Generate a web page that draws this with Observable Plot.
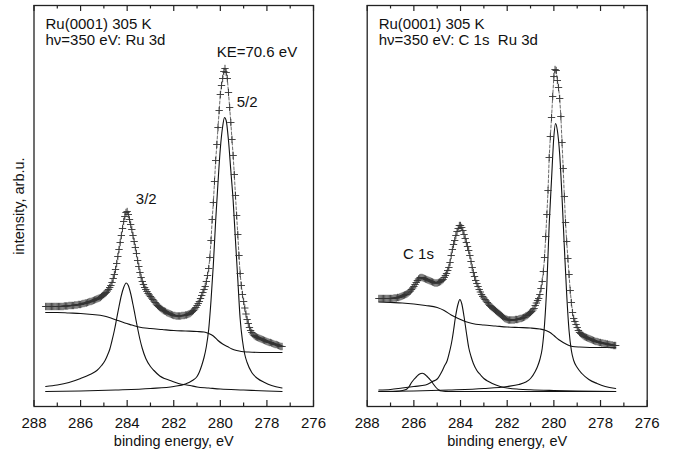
<!DOCTYPE html>
<html><head><meta charset="utf-8">
<script src="https://cdn.jsdelivr.net/npm/d3@7"></script>
<script src="https://cdn.jsdelivr.net/npm/@observablehq/plot@0.6"></script>
<style>
html,body{margin:0;padding:0;background:#fff;}
#chart{position:relative;width:675px;height:453px;font-family:"Liberation Sans",Arial,sans-serif;}
#chart svg{position:absolute;top:0;}
</style></head><body><div id="chart"></div>
<script>
// ---- data (binding energy grid: 287.50 eV down, 0.05 eV steps) ----
const energyStart = 287.5, energyStep = 0.05;

// Left panel: Ru 3d measured intensities (crosses / dashed envelope)
const ruCounts = [
  86,86,86,86,86,86,86,86,86,86,
  86,86,86,86,86,86,86.5,86.5,86.5,86.5,
  87,87,87,87,87,87.5,87.5,87.5,88,88,
  88,88.5,89,89,89.5,89.5,90,90.5,91,91,
  91.5,92,92.5,93,93.5,94,94.5,95,96,97,
  98,99,100,101.5,103,105,107,110,114,118,
  123,129,136,143,150,157,164,171,176,180,
  181,178,173,168,163,157,151,145,139,132,
  126,120,115,111,108,105,103,101,99,97.5,
  96,94.5,93,91.5,90,88.5,87,86,85,84,
  83,82,81.5,81,80,79.5,79,78.5,78,77.5,
  77,77,76.5,76.5,76.5,76.5,76.5,77,77,77,
  77.5,77.5,78,78.5,79,80,81,82,83.5,85,
  87,89,91,94,97,100,103,106,111,117,
  124,135,152,173,190,211,232,248,265,282,
  298,307,314,321,324,320,314,300,285,270,
  253,237,218,197,177,158,137,119,107,98,
  91,84.5,78.5,73,69,65,62,60,58.5,57,
  56,55.5,55,54.5,54,53.5,53,52.5,52,51.5,
  51,50.5,50,50,49.5,49,48.5,48,48,47.5,
  47,46.5,46,46
];
// Left panel fitted curves: [binding energy, intensity]
const ruBackground = [[287.5,80],[287.0,80],[286.5,79.5],[286.0,79],[285.5,78],[285.0,76.5],[284.7,74.5],[284.4,72],[284.1,69.5],[283.8,67.5],[283.5,65.5],[283.0,64],[282.5,63],[282.0,62],[281.5,61.5],[281.0,61],[280.7,60.5],[280.5,59],[280.3,56.5],[280.1,52],[279.9,48.5],[279.7,46],[279.5,43.5],[279.3,42],[279.1,41],[278.8,40.5],[278.0,40],[277.35,40]];
const ru32 = [[287.5,6],[287.0,7.5],[286.5,10],[286.0,14],[285.6,18],[285.3,22],[285.1,27],[284.95,32],[284.85,37],[284.75,43],[284.65,52],[284.55,62],[284.45,74],[284.35,86],[284.25,97],[284.15,105],[284.04,109.5],[283.95,107],[283.85,99],[283.75,88],[283.65,76],[283.55,64],[283.45,53],[283.35,44],[283.2,34],[283.0,26],[282.85,22],[282.6,16.5],[282.4,14],[282.15,12],[281.8,9],[281.3,7],[281.0,5.5],[280.5,4.5],[280.0,3.5],[279.0,2.5],[278.0,1.5],[277.35,1]];
const ru52 = [[287.5,1],[286.0,1.5],[284.5,2.5],[283.0,4],[282.0,6],[281.5,8.5],[281.2,12],[281.0,16],[280.9,20.5],[280.8,27],[280.7,35],[280.6,46],[280.5,63],[280.4,92],[280.3,128],[280.2,172],[280.1,210],[280.0,244],[279.9,266],[279.82,275],[279.75,272],[279.65,252],[279.55,222],[279.45,192],[279.35,152],[279.25,113],[279.15,74],[279.05,52],[278.95,38],[278.85,30],[278.65,20],[278.4,14],[278.1,10],[277.8,7],[277.35,4.5]];

// Right panel: C 1s + Ru 3d measured intensities
const c1sCounts = [
  94,94,94,94,94,94,94,94,94,94,
  94,94,94,94.5,94.5,94.5,95,95,95.5,96,
  96.5,97,97.5,98,98.5,99.5,100.5,101.5,103,104.5,
  106,108,110,112,113.5,114.5,115,115,114.5,114,
  113.5,113,112.5,112,111.5,111,110.5,110,109.5,109.5,
  109.5,110,110.5,111,112,113,115,117,119,122,
  125,130,137,143,148,152,157,161,164,167,
  167,165,162,158,154,150,146,142,137,131,
  125,120,116,112,109,106,103,100.5,98,96,
  94.5,93,91.5,90,88.5,87,86,85,84,83,
  82,81,80,79,78,77,76,75,74,73.5,
  73,72.5,72.5,72.5,72.5,72.5,72.5,73,73,73,
  73.5,74,74,74.5,75,75.5,76.5,77,78,79,
  80,81,82.5,84,87,89.5,92,94,98,104,
  111,121,135,156,178,202,235,256,275,296,
  316,323,322,312,305,294,276,250,224,196,
  170,151,134,118,102,90,80,74,71,68,
  65,62,60,59,58,57,56,55.5,55,54.5,
  54,53.5,53,52.5,52,51.5,51,51,50.5,50,
  50,49.5,49.5,49,49,48.5,48.5,48,48,47.5,
  47.5,47,47,47
];
const c1sBackground = [[287.5,90.5],[287.0,90],[286.5,89.5],[286.0,88.5],[285.5,87],[285.0,85],[284.7,82],[284.4,77.5],[284.1,74],[283.8,71],[283.5,69],[283.0,67.5],[282.5,66.5],[282.0,65.5],[281.5,65],[281.0,64.5],[280.6,63.5],[280.4,62.5],[280.2,60.5],[280.0,57],[279.8,53],[279.6,50],[279.4,47.5],[279.2,46],[278.9,45.5],[278.0,45],[277.35,45]];
const c1sPeak = [[287.5,1],[286.9,1],[286.6,1.5],[286.4,2.5],[286.3,3.5],[286.2,6],[286.1,10],[286.0,13],[285.9,15.5],[285.8,17.8],[285.7,19],[285.64,19.3],[285.55,18.5],[285.45,16.5],[285.35,14],[285.25,11.5],[285.15,8],[285.05,5],[284.95,2.8],[284.8,1.5],[284.5,1],[277.35,1]];
const c1sRu32 = [[287.5,2.5],[287.0,3],[286.5,4.5],[286.0,6],[285.5,7.5],[285.2,11],[285.0,13.5],[284.8,21],[284.7,26],[284.57,32],[284.5,38],[284.4,48],[284.36,53],[284.3,62],[284.22,75],[284.1,89],[284.03,93],[283.95,89],[283.85,76],[283.75,60],[283.65,45],[283.55,36],[283.45,29],[283.3,22],[283.14,17.5],[283.0,14],[282.8,11],[282.64,9],[282.3,6],[281.93,4.2],[281.5,3.3],[281.0,2.7],[280.0,2],[279.0,1.5],[277.35,1]];
const c1sRu52 = [[287.5,1],[286.0,1.5],[284.5,2.5],[283.0,4],[282.0,6],[281.5,8],[281.2,10.5],[281.0,14],[280.8,21],[280.7,26],[280.6,33],[280.5,44],[280.4,68],[280.3,108],[280.2,168],[280.1,213],[280.0,256],[279.93,269],[279.85,262],[279.75,238],[279.65,195],[279.55,145],[279.45,98],[279.35,62],[279.25,42],[279.15,32],[279.0,25],[278.8,19],[278.5,13],[278.15,9],[277.8,6],[277.35,4]];

// Axis ticks
const majorTicks = [288, 286, 284, 282, 280, 278, 276];
const minorTicks = [287, 285, 283, 281, 279, 277];

// Text
const ruTitle = "Ru(0001) 305 K\nhν=350 eV: Ru 3d";
const c1sTitle = "Ru(0001) 305 K\nhν=350 eV: C 1s  Ru 3d";
const ruLabels = ["KE=70.6 eV", "5/2", "3/2"];
const ruLabelE = [278.43, 278.85, 283.18];
const ruLabelI = [340, 290, 193];
const c1sLabels = ["C 1s"];
const c1sLabelE = [285.8];
const c1sLabelI = [138];
const xTitle = "binding energy, eV";
const yTitle = "intensity, arb.u.";

// ---- drawing ----
const H = 453, MT = 5, MB = 47, frameH = H - MT - MB;
const FONT = "Liberation Sans, Arial, sans-serif";

function panel(o) {
  const pts = o.counts.map((v, i) => ({e: +(energyStart - i * energyStep).toFixed(2), v}));
  const labels = o.labels.map((t, i) => ({t, e: o.labelE[i], v: o.labelI[i]}));
  const lineOpts = {x: d => d[0], y: d => d[1], curve: "monotone-x", stroke: "#111", strokeWidth: 1.1};
  const marks = [
    Plot.line(o.background, lineOpts),
    ...o.comps.map(c => Plot.line(c, lineOpts)),
    Plot.line(pts, {x: "e", y: "v", stroke: "#444", strokeWidth: 0.8, strokeDasharray: "3,2"}),
    Plot.dot(pts, {x: "e", y: "v", symbol: "plus", r: 2.5, stroke: "#333", strokeWidth: 0.9}),
    Plot.tickX(majorTicks, {x: d => d, insetTop: frameH - 6, stroke: "#222", strokeWidth: 1.2}),
    Plot.tickX(minorTicks, {x: d => d, insetTop: frameH - 3.5, stroke: "#222", strokeWidth: 1.2}),
    Plot.tickX(majorTicks, {x: d => d, insetBottom: frameH - 6, stroke: "#222", strokeWidth: 1.2}),
    Plot.tickX(minorTicks, {x: d => d, insetBottom: frameH - 3.5, stroke: "#222", strokeWidth: 1.2}),
    Plot.axisX(majorTicks, {tickSize: 0, tickPadding: 11, label: null, tickFormat: d => String(d), fontSize: 15}),
    Plot.frame({stroke: "#222", strokeWidth: 1.3}),
    Plot.text([o.title], {text: d => d, frameAnchor: "top-left", dx: 11.5, dy: 12.5, textAnchor: "start", lineAnchor: "top", lineHeight: 1.07, fontSize: 15, fill: "#111"}),
    Plot.text(labels, {x: "e", y: "v", text: "t", fontSize: 15, fill: "#111"}),
    Plot.text([xTitle], {text: d => d, frameAnchor: "bottom", dy: 39, fontSize: 14.5, fill: "#111"})
  ];
  if (o.yLabel) marks.push(Plot.text([yTitle], {text: d => d, frameAnchor: "left", textAnchor: "middle", lineAnchor: "middle", rotate: -90, dx: -15, fontSize: 14.5, fill: "#111"}));
  const svg = Plot.plot({
    width: o.width, height: H,
    marginLeft: o.ml, marginRight: o.mr, marginTop: MT, marginBottom: MB,
    x: {domain: [288, 276]},
    y: {domain: [-14, 387], axis: null},
    style: {fontFamily: FONT, fontSize: "15px", color: "#111", background: "transparent", overflow: "visible"},
    marks
  });
  svg.style.left = o.left + "px";
  return svg;
}

const root = document.getElementById("chart");
root.appendChild(panel({counts: ruCounts, background: ruBackground, comps: [ru32, ru52], title: ruTitle,
  labels: ruLabels, labelE: ruLabelE, labelI: ruLabelI, yLabel: true, width: 337, ml: 33.5, mr: 24, left: 0}));
root.appendChild(panel({counts: c1sCounts, background: c1sBackground, comps: [c1sPeak, c1sRu32, c1sRu52], title: c1sTitle,
  labels: c1sLabels, labelE: c1sLabelE, labelI: c1sLabelI, yLabel: false, width: 338, ml: 29.7, mr: 28.3, left: 337}));
</script></body></html>
